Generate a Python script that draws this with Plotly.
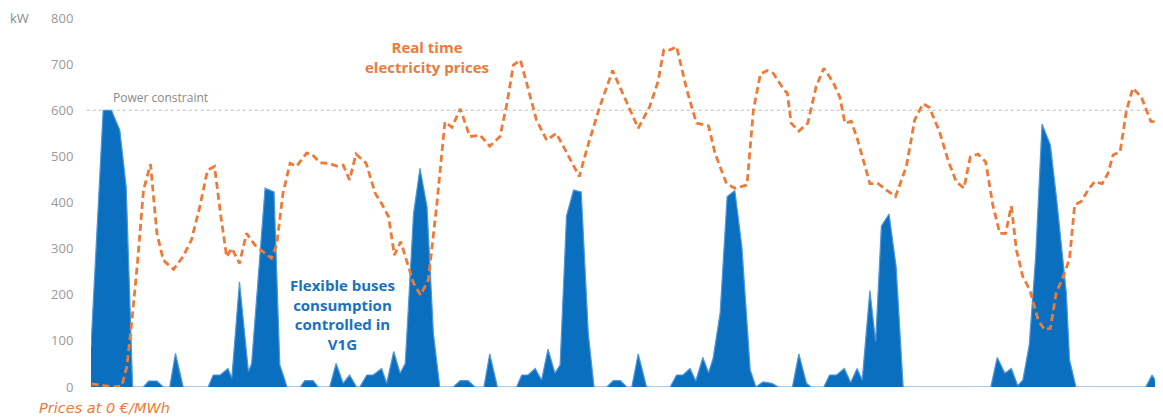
import plotly.graph_objects as go

# Flexible buses consumption (kW) - vertices (time in hours)
bus_hours = [0.0, 1.9, 3.2, 4.5, 5.5, 6.5, 8.2, 9.0, 10.3, 11.3, 12.3, 13.2, 14.4,
             18.3, 19.1, 20.2, 21.4, 22.0, 23.2, 24.6, 25.1, 27.2, 28.6, 29.5, 30.3, 30.6,
             32.7, 33.4, 34.7, 35.5, 37.3, 38.3, 39.4, 40.4, 41.5, 42.0, 43.1, 44.1, 45.4,
             46.2, 47.3, 48.3, 49.1, 50.4, 51.4, 52.5, 53.5, 54.5, 56.6, 57.7, 58.9, 60.0,
             61.4, 62.3, 63.5, 66.5, 67.3, 68.3, 69.4, 70.4, 71.4, 72.5, 73.3, 74.3, 75.4,
             76.6, 77.7, 78.6, 80.6, 81.6, 82.7, 83.7, 84.5, 85.5, 86.8, 90.5, 91.5, 92.5,
             93.6, 94.5, 95.6, 96.5, 97.2, 98.3, 99.4, 100.6, 101.7, 103.0, 103.9, 105.0,
             106.4, 107.4, 109.6, 110.6, 111.8, 112.5, 114.5, 115.4, 116.5, 117.7, 118.7,
             119.7, 120.5, 121.7, 122.6, 123.5, 124.7, 125.8, 126.9, 140.6, 141.6, 142.8,
             143.8, 144.8, 145.6, 146.6, 147.6, 148.6, 149.9, 150.9, 152.4, 152.9, 153.9,
             164.8, 165.8, 166.7, 167.5]
bus_kw = [87, 600, 600, 557, 434, 0, 0, 13, 13, 0, 0, 73, 0,
          0, 26, 26, 40, 19, 228, 33, 51, 431, 423, 48, 15, 0,
          0, 14, 14, 0, 0, 51, 8, 26, 0, 0, 26, 26, 40,
          8, 77, 30, 51, 376, 474, 391, 116, 0, 0, 14, 14, 0,
          0, 72, 0, 0, 26, 26, 40, 15, 82, 30, 48, 371, 427,
          423, 116, 0, 0, 14, 14, 0, 0, 72, 0, 0, 26, 26,
          40, 13, 64, 31, 62, 160, 413, 426, 304, 37, 0, 11,
          8, 0, 0, 72, 8, 0, 0, 26, 26, 40, 10,
          40, 15, 209, 98, 349, 375, 261, 0, 0, 64, 30,
          40, 3, 15, 91, 282, 570, 525, 405, 203, 59, 0,
          0, 26, 4, 37]

# Real time electricity prices - vertices
price_hours = [0.1, 1.4, 3.5, 4.8, 5.6, 6.4, 7.3, 8.2, 9.3, 10.3, 11.3, 12.9, 14.4,
               15.7, 17.0, 18.2, 19.3, 20.3, 21.2, 22.0, 23.2, 24.3, 25.6, 26.9, 28.2,
               29.0, 30.0, 31.1, 32.1, 33.7, 34.5, 35.8, 37.1, 38.4, 39.4, 40.4, 41.4,
               43.0, 44.4, 45.4, 46.5, 47.4, 48.4, 49.6, 50.4, 51.5, 52.7, 54.0, 55.3,
               56.4, 57.7, 59.2, 60.8, 62.3, 63.9, 65.0, 66.0, 67.1, 68.3, 69.6, 71.2,
               72.7, 74.1, 76.3, 77.5, 79.5, 81.5, 83.7, 85.5, 87.3, 88.6, 89.5, 90.5,
               91.5, 93.1, 94.6, 96.5, 97.5, 99.3, 100.6, 102.5, 103.5, 104.6, 105.7,
               106.6, 108.3, 108.8, 109.4, 110.6, 112.0, 113.3, 114.5, 115.9, 117.0,
               117.8, 118.8, 119.8, 121.7, 123.0, 124.3, 125.7, 127.4, 128.7, 130.0,
               131.0, 132.6, 133.9, 135.2, 136.4, 137.4, 138.6, 139.8, 140.9, 142.0,
               142.9, 143.8, 144.6, 145.6, 146.7, 148.0, 149.0, 149.9, 150.8, 152.1,
               152.9, 153.7, 154.7, 155.8, 156.8, 158.0, 158.9, 159.7, 160.8, 161.8,
               162.8, 164.1, 165.6, 166.7, 167.5]
price_values = [7, 4, 0, 2, 44, 145, 275, 427, 483, 333, 275, 255, 283,
                319, 391, 470, 478, 369, 282, 301, 268, 333, 308, 293, 279,
                308, 420, 485, 478, 507, 505, 486, 485, 479, 481, 449, 505,
                485, 420, 398, 369, 286, 315, 261, 225, 199, 232, 391, 575,
                563, 603, 543, 546, 522, 543, 615, 698, 709, 644, 579, 535,
                550, 514, 456, 517, 608, 686, 618, 561, 608, 662, 731, 731,
                738, 644, 572, 566, 507, 441, 431, 438, 600, 679, 686,
                680, 644, 637, 572, 555, 572, 651, 691, 662, 629,
                572, 576, 535, 441, 441, 427, 413, 478, 579, 614,
                606, 553, 492, 445, 431, 499, 505, 488, 395, 333,
                333, 392, 297, 239, 210, 145, 124, 127, 203, 246,
                279, 395, 402, 427, 445, 441, 463, 503, 510, 600,
                648, 629, 576, 575, 553]

y_ticks = [0, 100, 200, 300, 400, 500, 600, 700, 800]
power_constraint = 600

ORANGE = "#ee7a38"
BLUE = "#0b6fbf"
GRAY = "#9a9a9a"
FONT = "Open Sans"

fig = go.Figure()
fig.add_trace(go.Scatter(
    x=bus_hours, y=bus_kw, mode="lines", fill="tozeroy",
    fillcolor=BLUE, line=dict(color="#4f97d8", width=1.2),
    hoverinfo="skip", showlegend=False))
fig.add_trace(go.Scatter(
    x=price_hours, y=price_values, mode="lines",
    line=dict(color=ORANGE, width=2.8, dash="7px,4px"),
    hoverinfo="skip", showlegend=False))

fig.add_shape(type="line", xref="paper", yref="y", x0=-0.004, x1=1,
              y0=power_constraint, y1=power_constraint,
              line=dict(color="#bdbdbd", width=1, dash="dot"), layer="below")

annotations = [
    dict(text="Power constraint", x=0.0187, y=power_constraint, xref="paper", yref="y",
         xanchor="left", yanchor="bottom", yshift=2, showarrow=False,
         font=dict(family=FONT, size=12, color="#8a8a8a")),
    dict(text="<b>Real time<br>electricity prices</b>", x=0.313, y=0.894, xref="paper", yref="paper",
         xanchor="center", yanchor="middle", showarrow=False, align="center",
         font=dict(family=FONT, size=15, color=ORANGE)),
    dict(text="<b>Flexible buses<br>consumption<br>controlled in<br>V1G</b>", x=0.235, y=0.196,
         xref="paper", yref="paper", xanchor="center", yanchor="middle", showarrow=False,
         align="center", font=dict(family=FONT, size=15, color="#1a70c2")),
    dict(text="<i>Prices at 0 €/MWh</i>", x=-0.0504, y=-0.058, xref="paper", yref="paper",
         xanchor="left", yanchor="middle", showarrow=False,
         font=dict(family="DejaVu Sans", size=14.5, color=ORANGE)),
    dict(text="kW", x=-0.067, y=1.0, xref="paper", yref="paper",
         xanchor="center", yanchor="middle", showarrow=False,
         font=dict(family=FONT, size=13, color="#8a8a8a")),
]

# the page body adds an 8px offset, so the figure is sized to the remaining window
fig.update_layout(
    width=1155, height=410,
    margin=dict(l=83, r=0, t=10, b=31),
    paper_bgcolor="white", plot_bgcolor="white",
    annotations=annotations,
    xaxis=dict(range=[0, 167.5], showgrid=False, zeroline=False, showticklabels=False,
               showline=False, ticks=""),
    yaxis=dict(range=[0, 800], tickvals=y_ticks, showgrid=False, zeroline=False,
               showline=False, ticks="outside", ticklen=14, tickcolor="rgba(0,0,0,0)",
               tickfont=dict(family=FONT, size=13, color=GRAY)),
)

fig.write_html("out.html")
